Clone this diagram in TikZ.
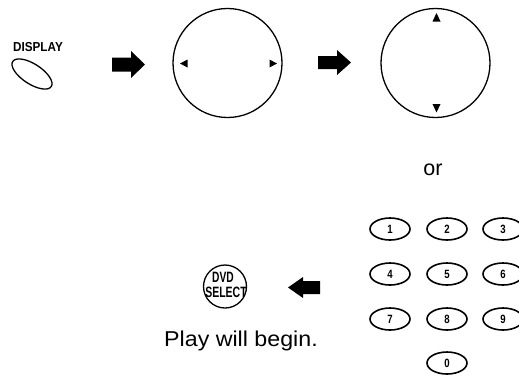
\documentclass[tikz,border=0pt]{standalone}
\usepackage{fontspec}
\setmainfont{Liberation Sans}
\usetikzlibrary{shapes.geometric}
\begin{document}
\begin{tikzpicture}[x=1pt,y=-1pt,
  bigring/.style={circle,draw,line width=1.3pt,minimum size=109pt,inner sep=0pt},
  keyoval/.style={ellipse,draw,line width=1.6pt,minimum width=40pt,minimum height=22pt,inner sep=0pt,
    font=\fontsize{12}{12}\selectfont\bfseries},
  tri/.style={fill=black,draw=none},
  blockarrow/.style={fill=black,draw=none},
  txt/.style={font=\fontsize{21.5}{22}\selectfont},
  btnlabel/.style={font=\fontsize{15}{15}\selectfont\bfseries,inner sep=0pt}]
\useasboundingbox (0,0) rectangle (519,376);
\clip (0,0) rectangle (519,376);

% DISPLAY button
\node[font=\fontsize{13}{13}\selectfont\bfseries,inner sep=0pt] (disptxt) at (38,47.5) {\scalebox{0.9}[1]{DISPLAY}};
\node[ellipse,draw,line width=1.3pt,minimum width=46pt,minimum height=20pt,inner sep=0pt,rotate=-33] (dispbtn) at (32,74) {};

% block arrows
\fill[blockarrow] (112,57.5) -- (131,57.5) -- (131,51) -- (145,64.5) -- (131,78) -- (131,71.5) -- (112,71.5) -- cycle;
\fill[blockarrow] (318,56) -- (337,56) -- (337,50) -- (351,62.5) -- (337,75) -- (337,69) -- (318,69) -- cycle;
\fill[blockarrow] (320,281) -- (303,281) -- (303,277) -- (288,287.5) -- (303,298) -- (303,294) -- (320,294) -- cycle;

% circles
\node[bigring] (ring1) at (227.5,63) {};
\node[bigring] (ring2) at (435.5,63) {};
\fill[tri] (180,63.5) -- (187.5,59.5) -- (187.5,67.5) -- cycle;
\fill[tri] (277,63.5) -- (269.5,59.5) -- (269.5,67.5) -- cycle;
\fill[tri] (436.5,13) -- (432.5,21.5) -- (440.5,21.5) -- cycle;
\fill[tri] (436.5,112.5) -- (432.5,104) -- (440.5,104) -- cycle;

% or
\node[txt,anchor=base,inner sep=0pt] (ortxt) at (433,175) {or};

% keypad
\foreach \d/\cx/\cy in {1/390/229,2/447/229,3/503/229,4/390/274,5/447/274,6/503/274,7/390/319,8/447/319,9/503/319,0/447/363}{
  \node[keyoval] (key\d) at (\cx,\cy) {\scalebox{0.8}[1]{\d}};
}

% DVD SELECT
\node[circle,draw,line width=1.3pt,minimum size=43pt,inner sep=0pt] (dvd) at (225,286.5) {};
\node[btnlabel] (dvdtxt) at (223,277) {\scalebox{0.68}[1]{DVD}};
\node[btnlabel] (seltxt) at (226,292.5) {\scalebox{0.7}[1]{SELECT}};

% Play will begin.
\node[txt,anchor=base,inner sep=0pt] (play) at (241,346) {\scalebox{1.08}[1]{Play will begin.}};
\end{tikzpicture}
\end{document}
